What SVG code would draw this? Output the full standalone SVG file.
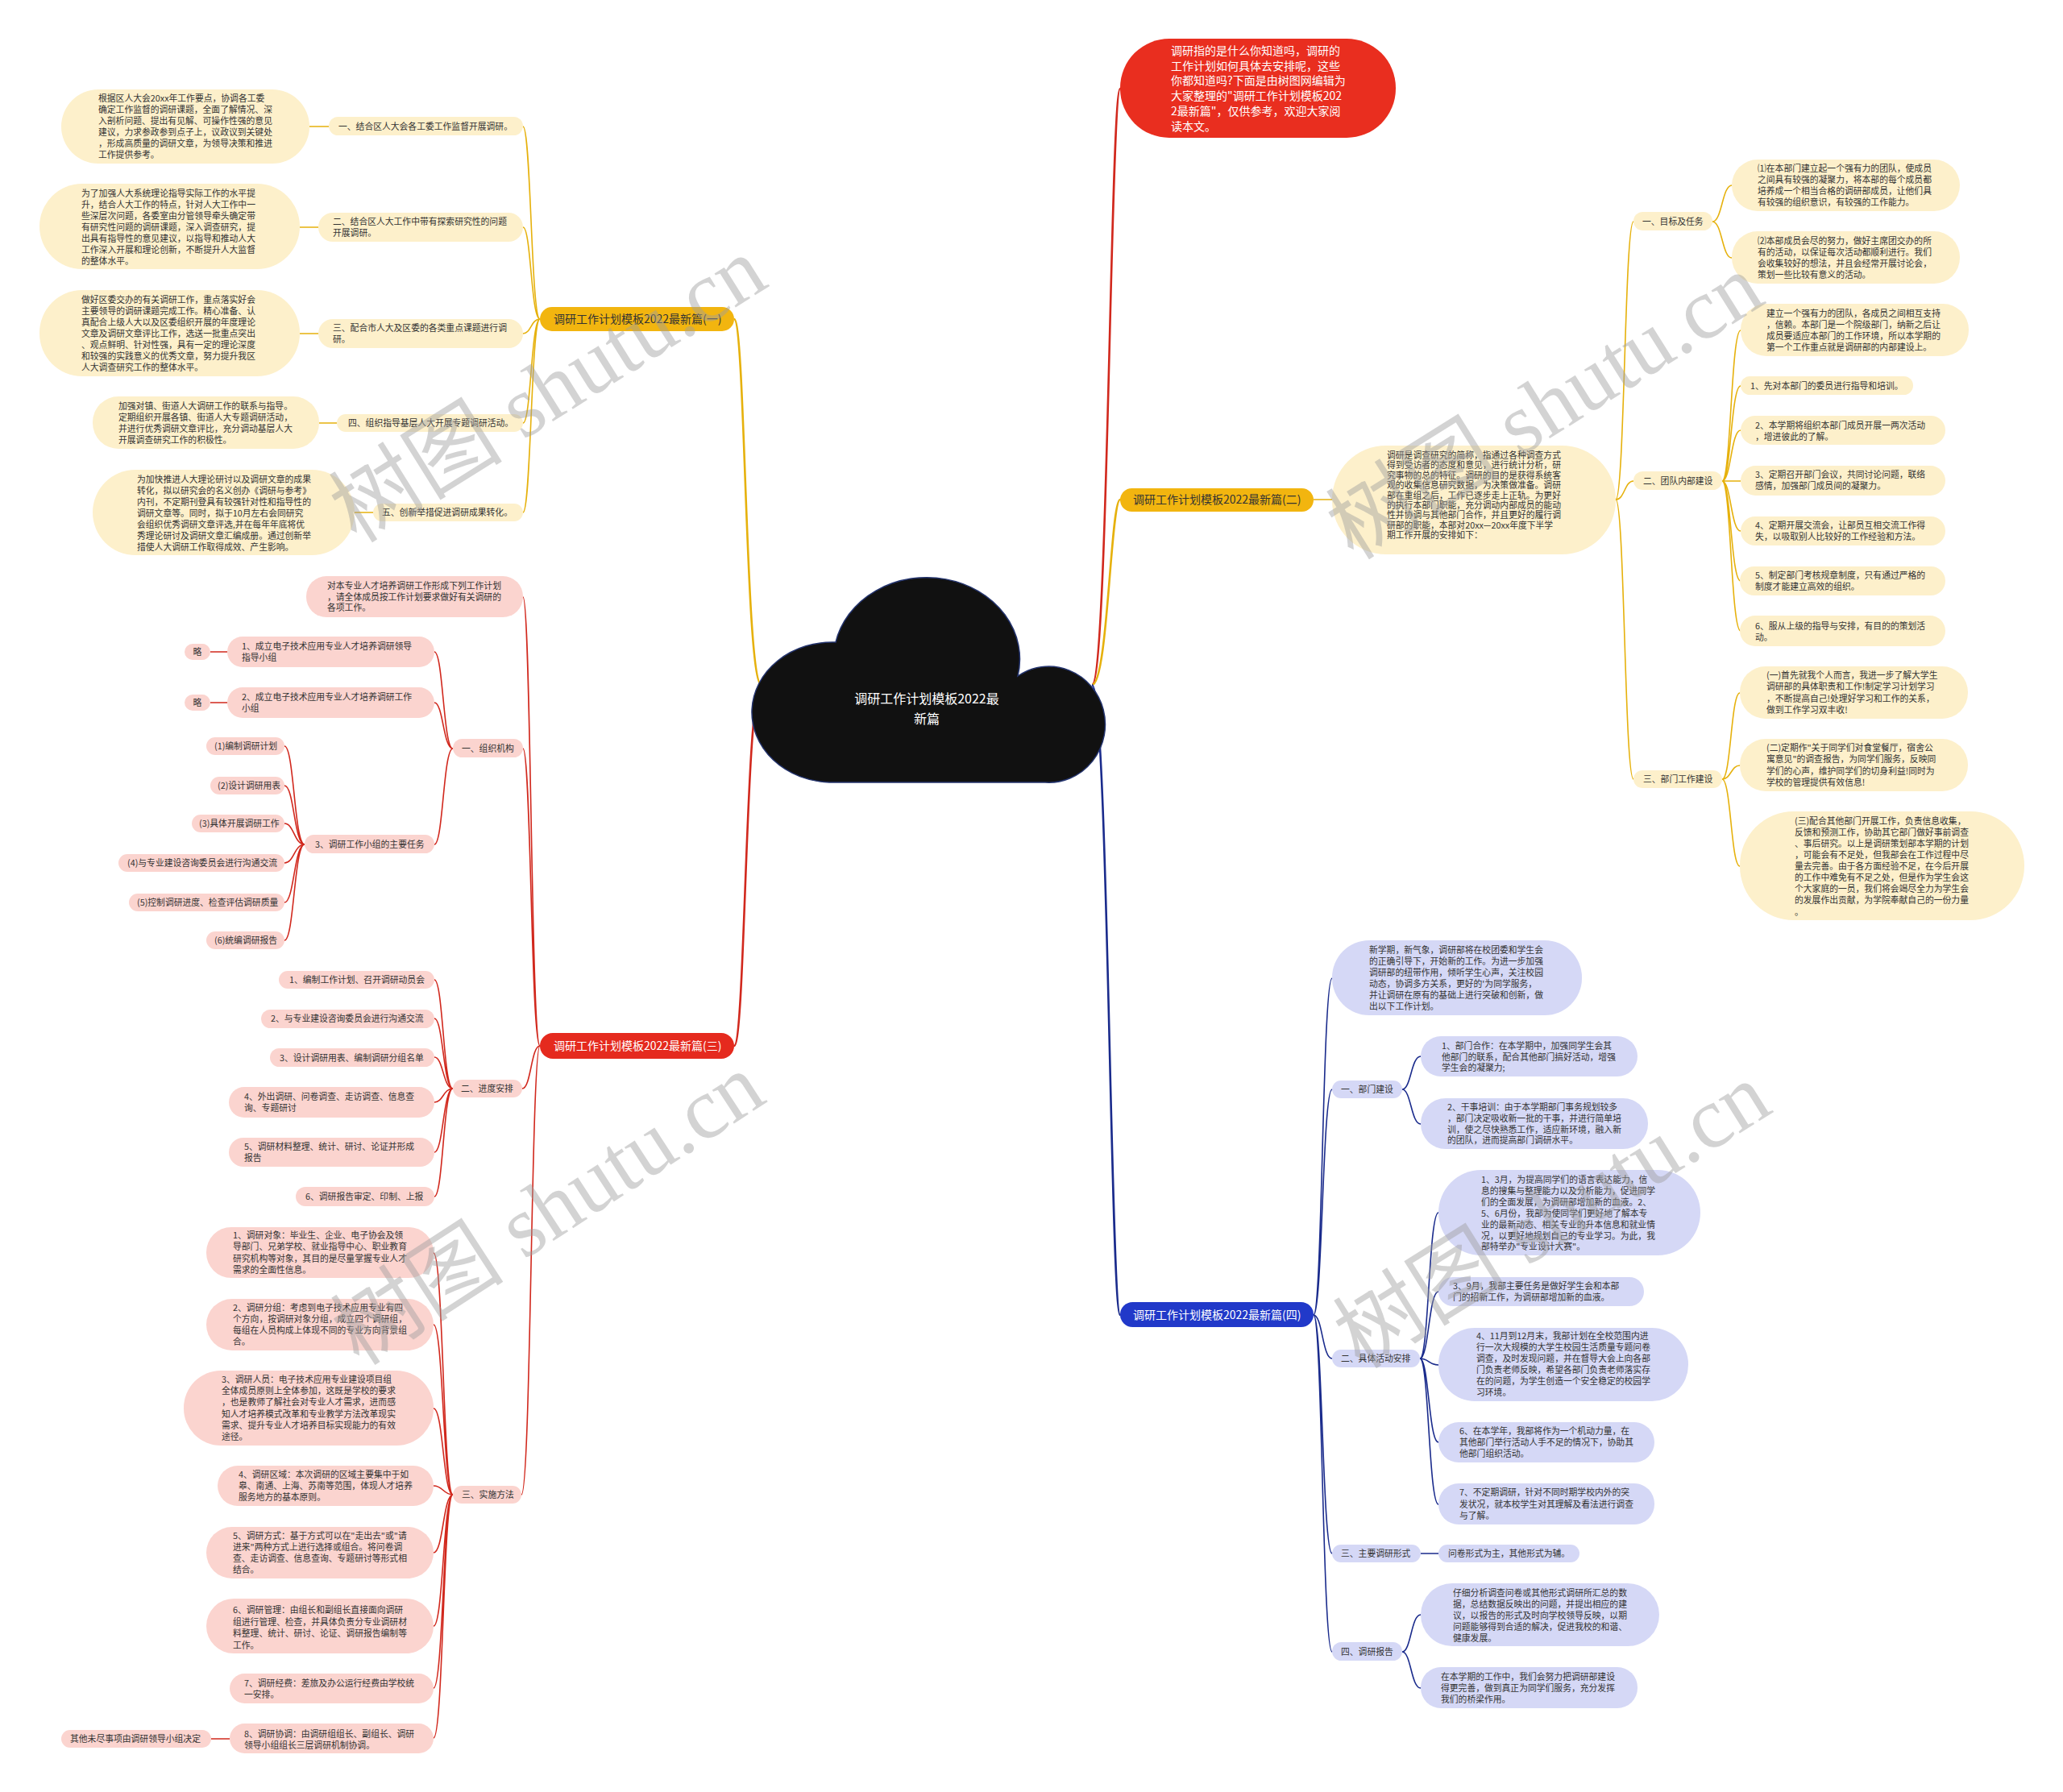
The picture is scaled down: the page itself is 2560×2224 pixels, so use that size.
<svg xmlns="http://www.w3.org/2000/svg" width="2560" height="2224" viewBox="0 0 2560 2224">
<style>
.t{font-family:"Noto Sans CJK SC","Noto Sans",sans-serif;font-size:10.8px;fill:#333}
.tn{font-family:"Noto Sans CJK SC","Noto Sans",sans-serif;font-size:14px}
.lg{fill:#fdf0cb}.lr{fill:#fbd4cf}.lb{fill:#d5d8f6}
.cg{fill:none;stroke:#e6b10c;stroke-width:1.6}
.cr{fill:none;stroke:#d1281d;stroke-width:1.6}
.cb{fill:none;stroke:#1a2b8c;stroke-width:1.6}
.main{stroke-width:2.6}
.wm{font-family:"Liberation Serif","Noto Sans CJK SC",serif;font-size:108px;fill:#9e9e9e;fill-opacity:0.45}
</style>
<rect width="2560" height="2224" fill="#ffffff"/>
<g id="connectors">
<path class="cg main" d="M 945 850 C 925 850 925 396 911 396"/>
<path class="cg" d="M 670 396 C 659 396 659 157 649 157 M 670 396 C 659 396 659 282 649 282 M 670 396 C 659 396 659 414 649 414 M 670 396 C 659 396 659 525 649 525 M 670 396 C 659 396 659 636 649 636 M 408 157 H 384 M 395 282 H 372 M 395 414 H 372 M 418 525 H 396 M 463 636 H 440"/>
<path class="cr main" d="M 945 850 C 925 850 925 1298 911 1298"/>
<path class="cr" d="M 670 1298 C 659 1298 659 741 649 741 M 670 1298 C 659 1298 659 929 649 929 M 670 1298 C 659 1298 659 1351 648 1351 M 670 1298 C 659 1298 659 1855 647 1855"/>
<path class="cr" d="M 562 929 C 550 929 550 809 539 809 M 562 929 C 550 929 550 872 539 872 M 562 929 C 550 929 550 1048 539 1048 M 282 809 H 261 M 282 872 H 261"/>
<path class="cr" d="M 378 1048 C 365 1048 365 926 353 926 M 378 1048 C 365 1048 365 975 353 975 M 378 1048 C 365 1048 365 1022 353 1022 M 378 1048 C 365 1048 365 1071 353 1071 M 378 1048 C 365 1048 365 1120 353 1120 M 378 1048 C 365 1048 365 1167 353 1167"/>
<path class="cr" d="M 562 1351 C 550 1351 550 1216 539 1216 M 562 1351 C 550 1351 550 1264 539 1264 M 562 1351 C 550 1351 550 1312 539 1312 M 562 1351 C 550 1351 550 1368 539 1368 M 562 1351 C 550 1351 550 1430 539 1430 M 562 1351 C 550 1351 550 1485 539 1485"/>
<path class="cr" d="M 562 1855 C 550 1855 550 1555 538 1555 M 562 1855 C 550 1855 550 1644 538 1644 M 562 1855 C 550 1855 550 1748 538 1748 M 562 1855 C 550 1855 550 1844 538 1844 M 562 1855 C 550 1855 550 1927 538 1927 M 562 1855 C 550 1855 550 2018 538 2018 M 562 1855 C 550 1855 550 2095 538 2095 M 562 1855 C 550 1855 550 2157 538 2157 M 285 2158 H 262"/>
<path class="cr main" d="M 1355 850 C 1375 850 1378 110 1390 110"/>
<path class="cg main" d="M 1355 850 C 1375 850 1378 620 1390 620"/>
<path class="cg" d="M 1630 620 H 1653 M 2005 620 C 2016 620 2016 275 2027 275 M 2005 620 C 2016 620 2016 597 2027 597 M 2005 620 C 2016 620 2016 967 2027 967"/>
<path class="cg" d="M 2125 275 C 2137 275 2137 230 2149 230 M 2125 275 C 2137 275 2137 320 2149 320"/>
<path class="cg" d="M 2137 597 C 2148 597 2148 410 2160 410 M 2137 597 C 2148 597 2148 479 2160 479 M 2137 597 C 2148 597 2148 534 2160 534 M 2137 597 C 2148 597 2148 597 2160 597 M 2137 597 C 2148 597 2148 659 2160 659 M 2137 597 C 2148 597 2148 721 2160 721 M 2137 597 C 2148 597 2148 783 2160 783"/>
<path class="cg" d="M 2137 967 C 2148 967 2148 860 2159 860 M 2137 967 C 2148 967 2148 950 2159 950 M 2137 967 C 2148 967 2148 1075 2159 1075"/>
<path class="cb main" d="M 1355 850 C 1375 850 1378 1632 1390 1632"/>
<path class="cb" d="M 1630 1632 C 1641 1632 1641 1214 1653 1214 M 1630 1632 C 1641 1632 1641 1352 1653 1352 M 1630 1632 C 1641 1632 1641 1686 1653 1686 M 1630 1632 C 1641 1632 1641 1928 1653 1928 M 1630 1632 C 1641 1632 1641 2050 1653 2050"/>
<path class="cb" d="M 1740 1352 C 1751 1352 1751 1311 1763 1311 M 1740 1352 C 1751 1352 1751 1395 1763 1395"/>
<path class="cb" d="M 1762 1686 C 1773 1686 1773 1505 1785 1505 M 1762 1686 C 1773 1686 1773 1603 1785 1603 M 1762 1686 C 1773 1686 1773 1694 1785 1694 M 1762 1686 C 1773 1686 1773 1790 1785 1790 M 1762 1686 C 1773 1686 1773 1867 1785 1867"/>
<path class="cb" d="M 1763 1928 H 1785 M 1740 2050 C 1751 2050 1751 2004 1763 2004 M 1740 2050 C 1751 2050 1751 2095 1763 2095"/>
</g>

<g id="root">
<path d="M 1029 971 A 100 87 0 0 1 1037 797 A 114 100 0 0 1 1263 839 A 70 72 0 1 1 1297 971 Z" fill="#111111" stroke="#24346e" stroke-width="1.5"/>
<text x="1150" y="873" text-anchor="middle" class="tn" style="font-size:16px" fill="#ffffff"><tspan x="1150">调研工作计划模板2022最</tspan><tspan x="1150" dy="25">新篇</tspan></text>
</g>

<!-- Branch 1 -->
<g id="b1"><rect x="670" y="381" width="241" height="30" rx="15" fill="#f2b50f"/><text x="687" y="401" class="tn" fill="#333">调研工作计划模板2022最新篇(一)</text></g>
<g id="b1-l1"><rect x="408" y="145" width="241" height="23" rx="11.5" class="lg"/><text x="420" y="161" class="t">一、结合区人大会各工委工作监督开展调研。</text></g>
<g id="b1-d1"><rect x="76" y="111" width="308" height="92" rx="46" class="lg"/><text x="122" y="126" class="t"><tspan x="122">根据区人大会20xx年工作要点，协调各工委</tspan><tspan x="122" dy="14">确定工作监督的调研课题，全面了解情况、深</tspan><tspan x="122" dy="14">入剖析问题、提出有见解、可操作性强的意见</tspan><tspan x="122" dy="14">建议，力求参政参到点子上，议政议到关键处</tspan><tspan x="122" dy="14">，形成高质量的调研文章，为领导决策和推进</tspan><tspan x="122" dy="14">工作提供参考。</tspan></text></g>
<g id="b1-l2"><rect x="395" y="264" width="254" height="36" rx="18" class="lg"/><text x="413" y="279" class="t"><tspan x="413">二、结合区人大工作中带有探索研究性的问题</tspan><tspan x="413" dy="14">开展调研。</tspan></text></g>
<g id="b1-d2"><rect x="49" y="228" width="323" height="106" rx="53" class="lg"/><text x="101" y="244" class="t"><tspan x="101">为了加强人大系统理论指导实际工作的水平提</tspan><tspan x="101" dy="14">升，结合人大工作的特点，针对人大工作中一</tspan><tspan x="101" dy="14">些深层次问题，各委室由分管领导牵头确定带</tspan><tspan x="101" dy="14">有研究性问题的调研课题，深入调查研究，提</tspan><tspan x="101" dy="14">出具有指导性的意见建议，以指导和推动人大</tspan><tspan x="101" dy="14">工作深入开展和理论创新，不断提升人大监督</tspan><tspan x="101" dy="14">的整体水平。</tspan></text></g>
<g id="b1-l3"><rect x="395" y="396" width="254" height="36" rx="18" class="lg"/><text x="413" y="411" class="t"><tspan x="413">三、配合市人大及区委的各类重点课题进行调</tspan><tspan x="413" dy="14">研。</tspan></text></g>
<g id="b1-d3"><rect x="49" y="360" width="323" height="107" rx="53" class="lg"/><text x="101" y="376" class="t"><tspan x="101">做好区委交办的有关调研工作，重点落实好会</tspan><tspan x="101" dy="14">主要领导的调研课题完成工作。精心准备、认</tspan><tspan x="101" dy="14">真配合上级人大以及区委组织开展的年度理论</tspan><tspan x="101" dy="14">文章及调研文章评比工作，选送一批重点突出</tspan><tspan x="101" dy="14">、观点鲜明、针对性强，具有一定的理论深度</tspan><tspan x="101" dy="14">和较强的实践意义的优秀文章，努力提升我区</tspan><tspan x="101" dy="14">人大调查研究工作的整体水平。</tspan></text></g>
<g id="b1-l4"><rect x="418" y="514" width="231" height="22" rx="11" class="lg"/><text x="432" y="529" class="t">四、组织指导基层人大开展专题调研活动。</text></g>
<g id="b1-d4"><rect x="115" y="492" width="281" height="65" rx="32" class="lg"/><text x="147" y="508" class="t"><tspan x="147">加强对镇、街道人大调研工作的联系与指导。</tspan><tspan x="147" dy="14">定期组织开展各镇、街道人大专题调研活动，</tspan><tspan x="147" dy="14">并进行优秀调研文章评比，充分调动基层人大</tspan><tspan x="147" dy="14">开展调查研究工作的积极性。</tspan></text></g>
<g id="b1-l5"><rect x="463" y="625" width="186" height="22" rx="11" class="lg"/><text x="474" y="640" class="t">五、创新举措促进调研成果转化。</text></g>
<g id="b1-d5"><rect x="115" y="583" width="325" height="106" rx="53" class="lg"/><text x="170" y="599" class="t"><tspan x="170">为加快推进人大理论研讨以及调研文章的成果</tspan><tspan x="170" dy="14">转化，拟以研究会的名义创办《调研与参考》</tspan><tspan x="170" dy="14">内刊，不定期刊登具有较强针对性和指导性的</tspan><tspan x="170" dy="14">调研文章等。同时，拟于10月左右会同研究</tspan><tspan x="170" dy="14">会组织优秀调研文章评选,并在每年年底将优</tspan><tspan x="170" dy="14">秀理论研讨及调研文章汇编成册。通过创新举</tspan><tspan x="170" dy="14">措使人大调研工作取得成效、产生影响。</tspan></text></g>

<!-- Branch 3 -->
<g id="b3"><rect x="670" y="1282" width="241" height="32" rx="16" fill="#e52a1e"/><text x="687" y="1303" class="tn" fill="#ffffff">调研工作计划模板2022最新篇(三)</text></g>
<g id="b3-intro"><rect x="380" y="715" width="269" height="51" rx="25" class="lr"/><text x="406" y="731" class="t"><tspan x="406">对本专业人才培养调研工作形成下列工作计划</tspan><tspan x="406" dy="13.5">，请全体成员按工作计划要求做好有关调研的</tspan><tspan x="406" dy="13.5">各项工作。</tspan></text></g>
<g id="b3-org"><rect x="562" y="917" width="87" height="23" rx="11.5" class="lr"/><text x="573" y="933" class="t">一、组织机构</text></g>
<g id="b3-org1"><rect x="282" y="790" width="257" height="38" rx="19" class="lr"/><text x="300" y="806" class="t"><tspan x="300">1、成立电子技术应用专业人才培养调研领导</tspan><tspan x="300" dy="14">指导小组</tspan></text></g>
<g id="b3-lue1"><rect x="229" y="799" width="32" height="20" rx="10" class="lr"/><text x="245" y="813" class="t" text-anchor="middle">略</text></g>
<g id="b3-org2"><rect x="282" y="853" width="257" height="38" rx="19" class="lr"/><text x="300" y="869" class="t"><tspan x="300">2、成立电子技术应用专业人才培养调研工作</tspan><tspan x="300" dy="14">小组</tspan></text></g>
<g id="b3-lue2"><rect x="229" y="862" width="32" height="20" rx="10" class="lr"/><text x="245" y="876" class="t" text-anchor="middle">略</text></g>
<g id="b3-org3"><rect x="378" y="1036" width="161" height="23" rx="11.5" class="lr"/><text x="391" y="1052" class="t">3、调研工作小组的主要任务</text></g>
<g id="b3-t1"><rect x="256" y="915" width="97" height="22" rx="11" class="lr"/><text x="266" y="930" class="t">(1)编制调研计划</text></g>
<g id="b3-t2"><rect x="261" y="964" width="92" height="22" rx="11" class="lr"/><text x="270" y="979" class="t">(2)设计调研用表</text></g>
<g id="b3-t3"><rect x="238" y="1011" width="115" height="22" rx="11" class="lr"/><text x="247" y="1026" class="t">(3)具体开展调研工作</text></g>
<g id="b3-t4"><rect x="147" y="1060" width="206" height="22" rx="11" class="lr"/><text x="158" y="1075" class="t">(4)与专业建设咨询委员会进行沟通交流</text></g>
<g id="b3-t5"><rect x="160" y="1109" width="193" height="22" rx="11" class="lr"/><text x="170" y="1124" class="t">(5)控制调研进度、检查评估调研质量</text></g>
<g id="b3-t6"><rect x="256" y="1156" width="97" height="22" rx="11" class="lr"/><text x="266" y="1171" class="t">(6)统编调研报告</text></g>
<g id="b3-prog"><rect x="562" y="1340" width="86" height="22" rx="11" class="lr"/><text x="572" y="1355" class="t">二、进度安排</text></g>
<g id="b3-p1"><rect x="346" y="1205" width="193" height="22" rx="11" class="lr"/><text x="359" y="1220" class="t">1、编制工作计划、召开调研动员会</text></g>
<g id="b3-p2"><rect x="324" y="1253" width="215" height="23" rx="11.5" class="lr"/><text x="336" y="1268" class="t">2、与专业建设咨询委员会进行沟通交流</text></g>
<g id="b3-p3"><rect x="335" y="1301" width="204" height="23" rx="11.5" class="lr"/><text x="347" y="1317" class="t">3、设计调研用表、编制调研分组名单</text></g>
<g id="b3-p4"><rect x="284" y="1349" width="255" height="38" rx="19" class="lr"/><text x="303" y="1365" class="t"><tspan x="303">4、外出调研、问卷调查、走访调查、信息查</tspan><tspan x="303" dy="13.5">询、专题研讨</tspan></text></g>
<g id="b3-p5"><rect x="284" y="1412" width="255" height="36" rx="18" class="lr"/><text x="303" y="1427" class="t"><tspan x="303">5、调研材料整理、统计、研讨、论证并形成</tspan><tspan x="303" dy="14">报告</tspan></text></g>
<g id="b3-p6"><rect x="367" y="1473" width="172" height="24" rx="12" class="lr"/><text x="379" y="1489" class="t">6、调研报告审定、印制、上报</text></g>
<g id="b3-meth"><rect x="562" y="1844" width="85" height="22" rx="11" class="lr"/><text x="573" y="1859" class="t">三、实施方法</text></g>
<g id="b3-m1"><rect x="256" y="1523" width="282" height="63" rx="31" class="lr"/><text x="289" y="1537" class="t"><tspan x="289">1、调研对象：毕业生、企业、电子协会及领</tspan><tspan x="289" dy="14.3">导部门、兄弟学校、就业指导中心、职业教育</tspan><tspan x="289" dy="14.3">研究机构等对象，其目的是尽量掌握专业人才</tspan><tspan x="289" dy="14.3">需求的全面性信息。</tspan></text></g>
<g id="b3-m2"><rect x="256" y="1612" width="282" height="64" rx="32" class="lr"/><text x="289" y="1627" class="t"><tspan x="289">2、调研分组：考虑到电子技术应用专业有四</tspan><tspan x="289" dy="14">个方向，按调研对象分组，成立四个调研组，</tspan><tspan x="289" dy="14">每组在人员构成上体现不同的专业方向背景组</tspan><tspan x="289" dy="14">合。</tspan></text></g>
<g id="b3-m3"><rect x="228" y="1701" width="310" height="93" rx="46" class="lr"/><text x="275" y="1716" class="t"><tspan x="275">3、调研人员：电子技术应用专业建设项目组</tspan><tspan x="275" dy="14.2">全体成员原则上全体参加，这既是学校的要求</tspan><tspan x="275" dy="14.2">，也是教师了解社会对专业人才需求，进而感</tspan><tspan x="275" dy="14.2">知人才培养模式改革和专业教学方法改革现实</tspan><tspan x="275" dy="14.2">需求、提升专业人才培养目标实现能力的有效</tspan><tspan x="275" dy="14.2">途径。</tspan></text></g>
<g id="b3-m4"><rect x="270" y="1819" width="268" height="50" rx="25" class="lr"/><text x="296" y="1834" class="t"><tspan x="296">4、调研区域：本次调研的区域主要集中于如</tspan><tspan x="296" dy="14">皋、南通、上海、苏南等范围，体现人才培养</tspan><tspan x="296" dy="14">服务地方的基本原则。</tspan></text></g>
<g id="b3-m5"><rect x="256" y="1895" width="282" height="64" rx="32" class="lr"/><text x="289" y="1910" class="t"><tspan x="289">5、调研方式：基于方式可以在"走出去"或"请</tspan><tspan x="289" dy="14">进来"两种方式上进行选择或组合。将问卷调</tspan><tspan x="289" dy="14">查、走访调查、信息查询、专题研讨等形式相</tspan><tspan x="289" dy="14">结合。</tspan></text></g>
<g id="b3-m6"><rect x="256" y="1984" width="282" height="68" rx="34" class="lr"/><text x="289" y="2002" class="t"><tspan x="289">6、调研管理：由组长和副组长直接面向调研</tspan><tspan x="289" dy="14.5">组进行管理、检查，并具体负责分专业调研材</tspan><tspan x="289" dy="14.5">料整理、统计、研讨、论证、调研报告编制等</tspan><tspan x="289" dy="14.5">工作。</tspan></text></g>
<g id="b3-m7"><rect x="285" y="2077" width="253" height="37" rx="18.5" class="lr"/><text x="303" y="2093" class="t"><tspan x="303">7、调研经费：差旅及办公运行经费由学校统</tspan><tspan x="303" dy="14">一安排。</tspan></text></g>
<g id="b3-m8"><rect x="285" y="2139" width="253" height="37" rx="18.5" class="lr"/><text x="303" y="2156" class="t"><tspan x="303">8、调研协调：由调研组组长、副组长、调研</tspan><tspan x="303" dy="13.5">领导小组组长三层调研机制协调。</tspan></text></g>
<g id="b3-m8a"><rect x="76" y="2147" width="186" height="22" rx="11" class="lr"/><text x="87" y="2162" class="t">其他未尽事项由调研领导小组决定</text></g>

<!-- Intro -->
<g id="intro"><rect x="1390" y="48" width="342" height="123" rx="61" fill="#e92e1f"/><text x="1453" y="68" class="tn" fill="#ffffff"><tspan x="1453">调研指的是什么你知道吗，调研的</tspan><tspan x="1453" dy="18.7">工作计划如何具体去安排呢，这些</tspan><tspan x="1453" dy="18.7">你都知道吗?下面是由树图网编辑为</tspan><tspan x="1453" dy="18.7">大家整理的"调研工作计划模板202</tspan><tspan x="1453" dy="18.7">2最新篇"，仅供参考，欢迎大家阅</tspan><tspan x="1453" dy="18.7">读本文。</tspan></text></g>

<!-- Branch 2 -->
<g id="b2"><rect x="1390" y="606" width="240" height="29" rx="14.5" fill="#f2b50f"/><text x="1406" y="625" class="tn" fill="#333">调研工作计划模板2022最新篇(二)</text></g>
<g id="b2-intro"><rect x="1653" y="553" width="352" height="135" rx="67" class="lg"/><text x="1721" y="569" class="t"><tspan x="1721">调研是调查研究的简称，指通过各种调查方式</tspan><tspan x="1721" dy="12.4">得到受访者的态度和意见，进行统计分析，研</tspan><tspan x="1721" dy="12.4">究事物的总的特征。调研的目的是获得系统客</tspan><tspan x="1721" dy="12.4">观的收集信息研究数据，为决策做准备。调研</tspan><tspan x="1721" dy="12.4">部在重组之后，工作已逐步走上正轨。为更好</tspan><tspan x="1721" dy="12.4">的执行本部门职能，充分调动内部成员的能动</tspan><tspan x="1721" dy="12.4">性并协调与其他部门合作，并且更好的履行调</tspan><tspan x="1721" dy="12.4">研部的职能，本部对20xx—20xx年度下半学</tspan><tspan x="1721" dy="12.4">期工作开展的安排如下：</tspan></text></g>
<g id="b2-h1"><rect x="2027" y="263" width="98" height="23" rx="11.5" class="lg"/><text x="2038" y="279" class="t">一、目标及任务</text></g>
<g id="b2-h1a"><rect x="2149" y="198" width="283" height="64" rx="32" class="lg"/><text x="2181" y="213" class="t"><tspan x="2181">⑴在本部门建立起一个强有力的团队，使成员</tspan><tspan x="2181" dy="14">之间具有较强的凝聚力，将本部的每个成员都</tspan><tspan x="2181" dy="14">培养成一个相当合格的调研部成员，让他们具</tspan><tspan x="2181" dy="14">有较强的组织意识，有较强的工作能力。</tspan></text></g>
<g id="b2-h1b"><rect x="2149" y="287" width="283" height="65" rx="32" class="lg"/><text x="2181" y="303" class="t"><tspan x="2181">⑵本部成员会尽的努力，做好主席团交办的所</tspan><tspan x="2181" dy="14">有的活动，以保证每次活动都顺利进行。我们</tspan><tspan x="2181" dy="14">会收集较好的想法，并且会经常开展讨论会，</tspan><tspan x="2181" dy="14">策划一些比较有意义的活动。</tspan></text></g>
<g id="b2-h2"><rect x="2027" y="585" width="110" height="23" rx="11.5" class="lg"/><text x="2039" y="601" class="t">二、团队内部建设</text></g>
<g id="b2-h2a"><rect x="2160" y="377" width="283" height="65" rx="32" class="lg"/><text x="2192" y="393" class="t"><tspan x="2192">建立一个强有力的团队，各成员之间相互支持</tspan><tspan x="2192" dy="14">，信赖。本部门是一个院级部门，纳新之后让</tspan><tspan x="2192" dy="14">成员要适应本部门的工作环境，所以本学期的</tspan><tspan x="2192" dy="14">第一个工作重点就是调研部的内部建设上。</tspan></text></g>
<g id="b2-h2b"><rect x="2160" y="467" width="214" height="23" rx="11.5" class="lg"/><text x="2172" y="483" class="t">1、先对本部门的委员进行指导和培训。</text></g>
<g id="b2-h2c"><rect x="2160" y="516" width="254" height="36" rx="18" class="lg"/><text x="2178" y="532" class="t"><tspan x="2178">2、本学期将组织本部门成员开展一两次活动</tspan><tspan x="2178" dy="13.5">，增进彼此的了解。</tspan></text></g>
<g id="b2-h2d"><rect x="2160" y="578" width="254" height="37" rx="18.5" class="lg"/><text x="2178" y="593" class="t"><tspan x="2178">3、定期召开部门会议，共同讨论问题，联络</tspan><tspan x="2178" dy="14">感情，加强部门成员间的凝聚力。</tspan></text></g>
<g id="b2-h2e"><rect x="2160" y="641" width="254" height="36" rx="18" class="lg"/><text x="2178" y="656" class="t"><tspan x="2178">4、定期开展交流会，让部员互相交流工作得</tspan><tspan x="2178" dy="14">失，以吸取别人比较好的工作经验和方法。</tspan></text></g>
<g id="b2-h2f"><rect x="2159" y="703" width="255" height="36" rx="18" class="lg"/><text x="2178" y="718" class="t"><tspan x="2178">5、制定部门考核规章制度，只有通过严格的</tspan><tspan x="2178" dy="14">制度才能建立高效的组织。</tspan></text></g>
<g id="b2-h2g"><rect x="2159" y="764" width="255" height="38" rx="19" class="lg"/><text x="2178" y="781" class="t"><tspan x="2178">6、服从上级的指导与安排，有目的的策划活</tspan><tspan x="2178" dy="13.5">动。</tspan></text></g>
<g id="b2-h3"><rect x="2027" y="956" width="110" height="22" rx="11" class="lg"/><text x="2039" y="971" class="t">三、部门工作建设</text></g>
<g id="b2-h3a"><rect x="2159" y="827" width="283" height="65" rx="32" class="lg"/><text x="2192" y="842" class="t"><tspan x="2192">(一)首先就我个人而言，我进一步了解大学生</tspan><tspan x="2192" dy="14.3">调研部的具体职责和工作!制定学习计划学习</tspan><tspan x="2192" dy="14.3">，不断提高自己!处理好学习和工作的关系，</tspan><tspan x="2192" dy="14.3">做到工作学习双丰收!</tspan></text></g>
<g id="b2-h3b"><rect x="2159" y="917" width="283" height="65" rx="32" class="lg"/><text x="2192" y="932" class="t"><tspan x="2192">(二)定期作"关于同学们对食堂餐厅，宿舍公</tspan><tspan x="2192" dy="14.3">寓意见"的调查报告，为同学们服务，反映同</tspan><tspan x="2192" dy="14.3">学们的心声，维护同学们的切身利益!同时为</tspan><tspan x="2192" dy="14.3">学校的管理提供有效信息!</tspan></text></g>
<g id="b2-h3c"><rect x="2159" y="1007" width="353" height="135" rx="67" class="lg"/><text x="2227" y="1023" class="t"><tspan x="2227">(三)配合其他部门开展工作，负责信息收集，</tspan><tspan x="2227" dy="14">反馈和预测工作，协助其它部门做好事前调查</tspan><tspan x="2227" dy="14">、事后研究。以上是调研策划部本学期的计划</tspan><tspan x="2227" dy="14">，可能会有不足处，但我部会在工作过程中尽</tspan><tspan x="2227" dy="14">量去完善。由于各方面经验不足，在今后开展</tspan><tspan x="2227" dy="14">的工作中难免有不足之处，但是作为学生会这</tspan><tspan x="2227" dy="14">个大家庭的一员，我们将会竭尽全力为学生会</tspan><tspan x="2227" dy="14">的发展作出贡献，为学院奉献自己的一份力量</tspan><tspan x="2227" dy="15">。</tspan></text></g>

<!-- Branch 4 -->
<g id="b4"><rect x="1390" y="1616" width="240" height="31" rx="15.5" fill="#2139c9"/><text x="1406" y="1637" class="tn" fill="#ffffff">调研工作计划模板2022最新篇(四)</text></g>
<g id="b4-intro"><rect x="1653" y="1167" width="310" height="93" rx="46" class="lb"/><text x="1699" y="1183" class="t"><tspan x="1699">新学期，新气象，调研部将在校团委和学生会</tspan><tspan x="1699" dy="14">的正确引导下，开始新的工作。为进一步加强</tspan><tspan x="1699" dy="14">调研部的纽带作用，倾听学生心声，关注校园</tspan><tspan x="1699" dy="14">动态，协调多方关系，更好的'为同学服务，</tspan><tspan x="1699" dy="14">并让调研在原有的基础上进行突破和创新，做</tspan><tspan x="1699" dy="14">出以下工作计划。</tspan></text></g>
<g id="b4-h1"><rect x="1653" y="1341" width="87" height="22" rx="11" class="lb"/><text x="1664" y="1356" class="t">一、部门建设</text></g>
<g id="b4-h1a"><rect x="1763" y="1286" width="269" height="50" rx="25" class="lb"/><text x="1789" y="1302" class="t"><tspan x="1789">1、部门合作：在本学期中，加强同学生会其</tspan><tspan x="1789" dy="13.7">他部门的联系，配合其他部门搞好活动，增强</tspan><tspan x="1789" dy="13.7">学生会的凝聚力;</tspan></text></g>
<g id="b4-h1b"><rect x="1763" y="1363" width="282" height="63" rx="31" class="lb"/><text x="1796" y="1378" class="t"><tspan x="1796">2、干事培训：由于本学期部门事务规划较多</tspan><tspan x="1796" dy="13.8">，部门决定吸收新一批的干事，并进行简单培</tspan><tspan x="1796" dy="13.8">训，使之尽快熟悉工作，适应新环境，融入新</tspan><tspan x="1796" dy="13.8">的团队，进而提高部门调研水平。</tspan></text></g>
<g id="b4-h2"><rect x="1653" y="1675" width="109" height="22" rx="11" class="lb"/><text x="1664" y="1690" class="t">二、具体活动安排</text></g>
<g id="b4-h2a"><rect x="1785" y="1452" width="325" height="106" rx="53" class="lb"/><text x="1838" y="1468" class="t"><tspan x="1838">1、3月，为提高同学们的语言表达能力，信</tspan><tspan x="1838" dy="13.9">息的搜集与整理能力以及分析能力，促进同学</tspan><tspan x="1838" dy="13.9">们的全面发展，为调研部增加新的血液。2、</tspan><tspan x="1838" dy="13.9">5、6月份，我部为使同学们更好地了解本专</tspan><tspan x="1838" dy="13.9">业的最新动态、相关专业的升本信息和就业情</tspan><tspan x="1838" dy="13.9">况，以更好地规划自己的专业学习。为此，我</tspan><tspan x="1838" dy="13.9">部特举办"专业设计大赛"。</tspan></text></g>
<g id="b4-h2b"><rect x="1785" y="1585" width="255" height="36" rx="18" class="lb"/><text x="1803" y="1600" class="t"><tspan x="1803">3、9月，我部主要任务是做好学生会和本部</tspan><tspan x="1803" dy="13.5">门的招新工作，为调研部增加新的血液。</tspan></text></g>
<g id="b4-h2c"><rect x="1785" y="1648" width="310" height="91" rx="45" class="lb"/><text x="1832" y="1662" class="t"><tspan x="1832">4、11月到12月末，我部计划在全校范围内进</tspan><tspan x="1832" dy="14">行一次大规模的大学生校园生活质量专题问卷</tspan><tspan x="1832" dy="14">调查，及时发现问题，并在督导大会上向各部</tspan><tspan x="1832" dy="14">门负责老师反映，希望各部门负责老师落实存</tspan><tspan x="1832" dy="14">在的问题，为学生创造一个安全稳定的校园学</tspan><tspan x="1832" dy="14">习环境。</tspan></text></g>
<g id="b4-h2d"><rect x="1785" y="1765" width="268" height="50" rx="25" class="lb"/><text x="1811" y="1780" class="t"><tspan x="1811">6、在本学年，我部将作为一个机动力量，在</tspan><tspan x="1811" dy="14">其他部门举行活动人手不足的情况下，协助其</tspan><tspan x="1811" dy="14">他部门组织活动。</tspan></text></g>
<g id="b4-h2e"><rect x="1785" y="1841" width="268" height="51" rx="25" class="lb"/><text x="1811" y="1856" class="t"><tspan x="1811">7、不定期调研，针对不同时期学校内外的突</tspan><tspan x="1811" dy="14.5">发状况，就本校学生对其理解及看法进行调查</tspan><tspan x="1811" dy="14.5">与了解。</tspan></text></g>
<g id="b4-h3"><rect x="1653" y="1917" width="110" height="22" rx="11" class="lb"/><text x="1664" y="1932" class="t">三、主要调研形式</text></g>
<g id="b4-h3a"><rect x="1785" y="1917" width="175" height="22" rx="11" class="lb"/><text x="1797" y="1932" class="t">问卷形式为主，其他形式为辅。</text></g>
<g id="b4-h4"><rect x="1653" y="2038" width="87" height="23" rx="11.5" class="lb"/><text x="1664" y="2054" class="t">四、调研报告</text></g>
<g id="b4-h4a"><rect x="1763" y="1965" width="296" height="78" rx="39" class="lb"/><text x="1803" y="1981" class="t"><tspan x="1803">仔细分析调查问卷或其他形式调研所汇总的数</tspan><tspan x="1803" dy="14">据，总结数据反映出的问题，并提出相应的建</tspan><tspan x="1803" dy="14">议，以报告的形式及时向学校领导反映，以期</tspan><tspan x="1803" dy="14">问题能够得到合适的解决，促进我校的和谐、</tspan><tspan x="1803" dy="14">健康发展。</tspan></text></g>
<g id="b4-h4b"><rect x="1763" y="2069" width="269" height="51" rx="25" class="lb"/><text x="1788" y="2085" class="t"><tspan x="1788">在本学期的工作中，我们会努力把调研部建设</tspan><tspan x="1788" dy="14">得更完善，做到真正为同学们服务，充分发挥</tspan><tspan x="1788" dy="14">我们的桥梁作用。</tspan></text></g>

<g id="watermarks">
<text class="wm" x="681" y="520" text-anchor="middle" transform="rotate(-32 681 485)">树图 shutu.cn</text>
<text class="wm" x="681" y="1537" text-anchor="middle" transform="rotate(-33 681 1502)">树图 shutu.cn</text>
<text class="wm" x="1918" y="541" text-anchor="middle" transform="rotate(-32 1918 506)">树图 shutu.cn</text>
<text class="wm" x="1927" y="1545" text-anchor="middle" transform="rotate(-32 1927 1510)">树图 shutu.cn</text>
</g>
</svg>
